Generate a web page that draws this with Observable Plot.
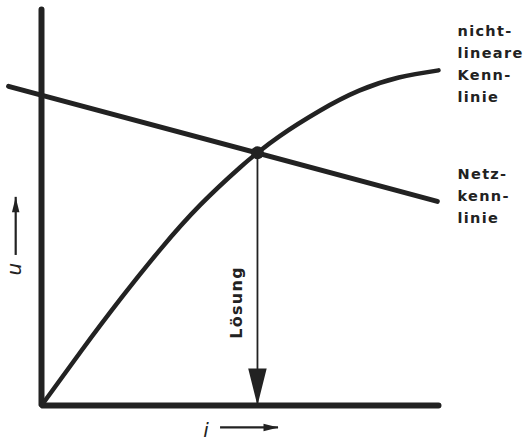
<!DOCTYPE html>
<html>
<head>
<meta charset="utf-8">
<script src="https://cdn.jsdelivr.net/npm/d3@7"></script>
<script src="https://cdn.jsdelivr.net/npm/@observablehq/plot@0.6"></script>
<style>
  html, body { margin: 0; padding: 0; background: #fff; }
</style>
</head>
<body>
<div id="chart"></div>
<script>
// Nonlinear characteristic (nichtlineare Kennlinie): current i vs. voltage u
const iCurve = [0, 1, 2, 3, 4, 5, 5.44, 6, 7, 8, 9, 10];
const uCurve = [0, 1.37, 2.69, 3.93, 5.04, 5.98, 6.35, 6.77, 7.40, 7.91, 8.24, 8.42];
// Network characteristic (Netzkennlinie): straight line
const iNetz = [-0.83, 9.97];
const uNetz = [8.02, 5.13];
// Operating point (Lösung)
const solutionI = 5.44;
const solutionU = 6.35;
// Axes extent
const axisI = [0, 0, 10];
const axisU = [9.95, 0, 0];
// Labels
const curveLabels = ["nicht-\nlineare\nKenn-\nlinie", "Netz-\nkenn-\nlinie"];
const curveLabelI = [10.48, 10.48];
const curveLabelU = [8.63, 5.31];
const solutionLabel = "Lösung";
const solutionLabelI = 4.91;
const solutionLabelU = 2.59;
const uLabel = {text: "u", i: -0.68, u: 3.44, arrowFrom: 3.77, arrowTo: 5.23, arrowI: -0.65};
const iLabel = {text: "i", i: 4.16, u: -0.63, arrowFrom: 4.51, arrowTo: 5.97, arrowU: -0.55};

const ink = "#222";
const curve = iCurve.map((v, k) => ({i: v, u: uCurve[k]}));
const netz = iNetz.map((v, k) => ({i: v, u: uNetz[k]}));
const axes = axisI.map((v, k) => ({i: v, u: axisU[k]}));
const labels = curveLabels.map((t, k) => ({text: t, i: curveLabelI[k], u: curveLabelU[k]}));

// long narrow filled arrowhead, tip at the origin, pointing down
const spike = {
  draw(ctx, size) {
    const s = Math.sqrt(size / Math.PI);
    ctx.moveTo(0, 0);
    ctx.lineTo(-s * 0.5, -s * 2);
    ctx.lineTo(s * 0.5, -s * 2);
    ctx.closePath();
  }
};

const chart = Plot.plot({
  width: 528,
  height: 446,
  x: {domain: [0, 10], range: [41, 438], axis: null},
  y: {domain: [0, 10], range: [405, 7], axis: null},
  style: {fontFamily: "DejaVu Sans", background: "#fff", color: ink, letterSpacing: "1.3px"},
  marks: [
    // Lösung arrow
    Plot.ruleX([solutionI], {y1: solutionU, y2: 0, stroke: ink, strokeWidth: 1.8}),
    Plot.dot([{i: solutionI, u: 0}], {x: "i", y: "u", symbol: spike, r: 18.5, fill: ink, stroke: "none"}),
    // axes
    Plot.line(axes, {x: "i", y: "u", stroke: ink, strokeWidth: 6, strokeLinecap: "round", strokeLinejoin: "miter"}),
    // characteristics
    Plot.line(netz, {x: "i", y: "u", stroke: ink, strokeWidth: 5, strokeLinecap: "round"}),
    Plot.line(curve, {x: "i", y: "u", curve: "natural", stroke: ink, strokeWidth: 4.5, strokeLinecap: "round"}),
    Plot.dot([{i: solutionI, u: solutionU}], {x: "i", y: "u", r: 6.5, fill: ink, stroke: "none"}),
    // labels
    Plot.text(labels, {x: "i", y: "u", text: "text", textAnchor: "start", lineAnchor: "middle",
      lineHeight: 1.5, fontSize: 14.5, fontWeight: "bold", fill: ink}),
    Plot.text([solutionLabel], {x: solutionLabelI, y: solutionLabelU, text: d => d, rotate: -90,
      fontSize: 16, fontWeight: "bold", fill: ink}),
    // u axis label and arrow
    Plot.text([uLabel], {x: "i", y: "u", text: "text", rotate: -90, fontSize: 20, fontStyle: "italic", fill: ink}),
    Plot.ruleX([uLabel.arrowI], {y1: uLabel.arrowFrom, y2: uLabel.arrowTo, stroke: ink, strokeWidth: 2.2}),
    Plot.dot([uLabel], {x: "arrowI", y: "arrowTo", symbol: spike, r: 7.5, rotate: 180, fill: ink, stroke: "none"}),
    // i axis label and arrow
    Plot.text([iLabel], {x: "i", y: "u", text: "text", fontSize: 20, fontStyle: "italic", fill: ink}),
    Plot.ruleY([iLabel.arrowU], {x1: iLabel.arrowFrom, x2: iLabel.arrowTo, stroke: ink, strokeWidth: 2.2}),
    Plot.dot([iLabel], {x: "arrowTo", y: "arrowU", symbol: spike, r: 7.5, rotate: -90, fill: ink, stroke: "none"})
  ]
});
document.getElementById("chart").appendChild(chart);
</script>
</body>
</html>
